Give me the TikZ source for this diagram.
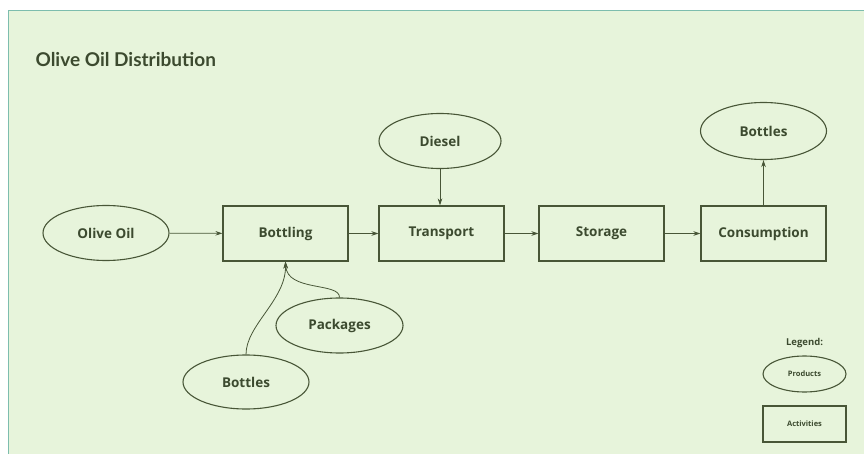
\documentclass[tikz,border=0pt]{standalone}
\usepackage{fontspec}
\setmainfont{Open Sans}
\newfontfamily\titlefont{Lato}
\usetikzlibrary{arrows.meta}
\definecolor{bgGreen}{HTML}{E7F4DB}
\definecolor{frameTeal}{HTML}{7DBDAE}
\definecolor{inkGreen}{HTML}{485637}
\definecolor{txtGreen}{HTML}{3C4A2F}
\tikzset{
  product/.style={ellipse, draw=inkGreen, line width=1.1pt, minimum width=126pt, minimum height=55pt, inner sep=0pt, font=\fontsize{13.5}{15}\selectfont\bfseries, text=txtGreen},
  activity/.style={rectangle, draw=inkGreen, line width=1.1pt, minimum width=125pt, minimum height=55pt, inner sep=0pt, font=\fontsize{13.5}{15}\selectfont\bfseries, text=txtGreen},
  flow/.style={draw=inkGreen, line width=0.8pt, -{Stealth[length=7pt,width=4.5pt]}}
}
\usetikzlibrary{shapes.geometric}
\begin{document}
\begin{tikzpicture}[x=1pt, y=1pt]
    \useasboundingbox (0,0) rectangle (864,-454);
    \fill[white] (0,0) rectangle (864,-454);
    \draw[frameTeal, line width=1.5pt, fill=bgGreen] (8.5,-10.5) rectangle (870,-460);
    \node[anchor=west, text=txtGreen, font=\titlefont\fontsize{19}{22}\selectfont\bfseries] (title) at (32,-60) {Olive Oil Distribution};
    % main chain
    \node[product] (oil) at (106,-233) {Olive Oil};
    \node[activity] (bottling) at (285.5,-233.5) {Bottling};
    \node[activity] (transport) at (441.5,-233.5) {Transport};
    \node[activity] (storage) at (601.5,-233.5) {Storage};
    \node[activity] (consumption) at (763.5,-233.5) {Consumption};
    % inputs and outputs
    \node[product, minimum width=122pt] (diesel) at (440,-141) {Diesel};
    \node[product, minimum height=57pt] (bottlesOut) at (763.5,-131) {Bottles};
    \node[product, minimum width=127pt] (packages) at (339.5,-325.5) {Packages};
    \node[product, minimum height=54pt] (bottlesIn) at (246,-382) {Bottles};
    \draw[flow] (oil) -- (bottling);
    \draw[flow] (bottling) -- (transport);
    \draw[flow] (transport) -- (storage);
    \draw[flow] (storage) -- (consumption);
    \draw[flow] (diesel) -- (diesel |- transport.north);
    \draw[flow] (consumption) -- (bottlesOut);
    \draw[flow] (bottlesIn.north) .. controls (246,-325) and (286,-300) .. (bottling.south);
    \draw[flow] (packages.north) .. controls (340,-282) and (287,-292) .. (bottling.south);
    % legend
    \node[text=txtGreen, font=\fontsize{9.5}{11}\selectfont\bfseries] (legend) at (804.5,-343) {Legend:};
    \node[product, minimum width=83pt, minimum height=36pt, font=\fontsize{7.5}{9}\selectfont\bfseries] (legProd) at (804.5,-374) {Products};
    \node[activity, minimum width=83pt, minimum height=36pt, font=\fontsize{7.5}{9}\selectfont\bfseries] (legAct) at (804.5,-424) {Activities};
\end{tikzpicture}
\end{document}
